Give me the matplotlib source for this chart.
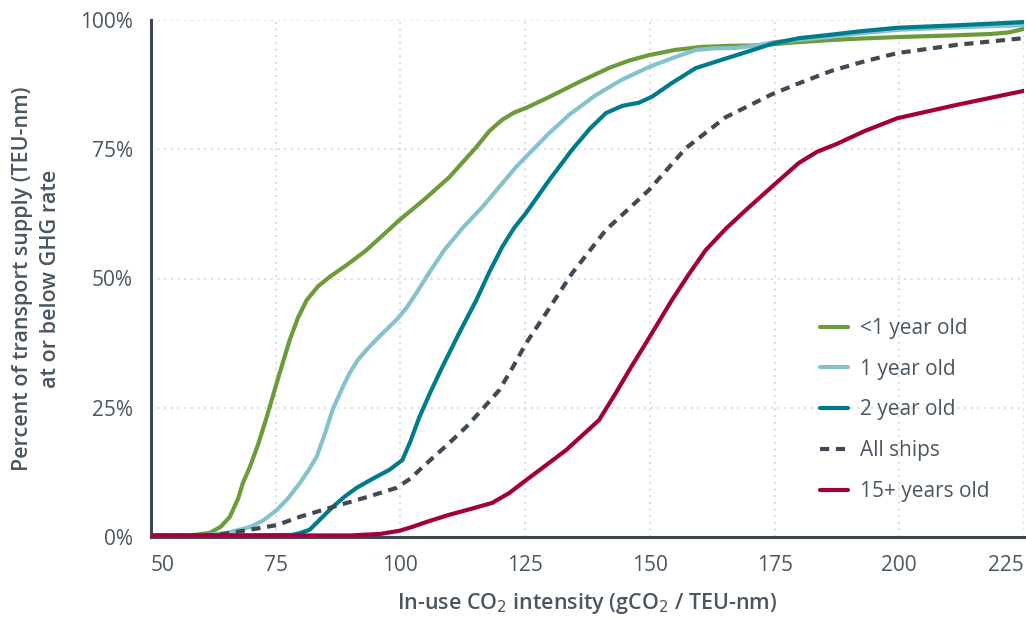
import matplotlib
matplotlib.use('Agg')
import matplotlib.pyplot as plt

# CO2 intensity (gCO2 / TEU-nm) vs cumulative share of transport supply (%)
x_lt1 = [48, 58, 61.8, 64, 65.8, 67.5, 68.4, 69.8, 71.5, 73.2, 75.2, 77.8, 79.5,
         81.2, 83.5, 85.8, 89.5, 93.2, 99.8, 104.8, 109.8, 112.5, 115.2, 117.8,
         120.4, 122.8, 125.2, 129.8, 135.8, 142, 146, 149.8, 155, 160.4,
         166, 172.4, 178, 185.8, 192, 199.6, 210, 218.4, 222, 225, 232]
y_lt1 = [0.3, 0.3, 0.8, 2.0, 3.9, 7.5, 10.4, 13.5, 18.0, 23.2, 29.8, 38.1, 42.5,
         45.8, 48.5, 50.3, 52.8, 55.5, 61.3, 65.3, 69.6, 72.5, 75.4, 78.5,
         80.7, 82.1, 83.0, 85.1, 88.0, 90.8, 92.2, 93.2, 94.2, 94.8,
         95.0, 95.1, 95.6, 96.1, 96.4, 96.7, 97.0, 97.3, 97.6, 98.3, 99.0]

x_1yr = [48, 60, 65.2, 69.8, 72.5, 75.2, 77.5, 79.8, 81.5, 83.2, 84.8, 86.4, 88.2,
         89.8, 91.5, 93.2, 96, 99.2, 101.2, 103.2, 106, 108.8, 112.5,
         116.4, 123.2, 129.8, 134, 139.2, 144.5, 149.8, 155, 159.2, 163, 167.2,
         171, 174.8, 180, 185.8, 192, 199.6, 212, 225, 232]
y_1yr = [0.3, 0.3, 0.8, 1.9, 3.2, 5.2, 7.5, 10.4, 12.8, 15.5, 19.8, 24.6, 28.5,
         31.7, 34.3, 36.2, 39.0, 42.0, 44.3, 47.2, 51.5, 55.5, 59.8,
         63.8, 71.6, 78.1, 81.8, 85.5, 88.5, 90.9, 92.8, 94.2, 94.5, 94.6,
         95.0, 95.7, 96.2, 96.7, 97.4, 98.1, 98.6, 99.0, 99.3]

x_2yr = [48, 70, 78.4, 80, 81.8, 84, 86.4, 88.8, 91.2, 94.5, 97.8, 100.4, 102,
         103.8, 106, 108.4, 111.8, 115.2, 117.8, 120.4, 122.8,
         125.2, 129.8, 134.4, 138, 141.2, 144.5, 147.8, 150.5, 154.4, 159.2, 164.4,
         170, 174.8, 180, 185.8, 192, 199.6, 212, 225, 232]
y_2yr = [0.3, 0.3, 0.4, 0.8, 1.4, 3.5, 5.8, 7.8, 9.5, 11.3, 13.0, 14.9, 18.5,
         23.2, 28.0, 32.9, 39.5, 45.8, 51.2, 56.1, 59.8,
         62.7, 69.0, 74.9, 79.0, 82.0, 83.4, 84.0, 85.2, 87.8, 90.7, 92.3,
         94.0, 95.5, 96.5, 97.1, 97.8, 98.5, 99.0, 99.6, 99.8]

x_all = [48, 58, 63.2, 69.8, 75.2, 79.8, 86.4, 93.2, 99.2, 102, 104.4, 109.8, 113.2,
         116.5, 119.8, 122.5, 125.2, 129.2, 134.4, 141.2, 149.8, 157.2, 165.2, 174.6,
         180, 186.5, 193, 199.6, 211.6, 225, 232]
y_all = [0.3, 0.3, 0.4, 1.4, 2.3, 3.9, 5.8, 7.7, 9.5, 11.3, 13.5, 18.2, 21.3,
         24.8, 28.4, 32.8, 37.5, 43.3, 51.0, 59.4, 67.1, 75.2, 81.2, 85.7,
         87.8, 90.2, 92.0, 93.6, 95.2, 96.5, 97.0]

x_15p = [48, 90, 96, 99.8, 102.5, 105.2, 109.8, 114, 118.4, 121.8, 125.2, 133.2,
         139.8, 143.2, 146.2, 149.2, 154.4, 157.8, 161.2, 165.2, 169.2, 174.4,
         179.8, 183.5, 187.4, 193, 199.6, 211.6, 225, 232]
y_15p = [0.3, 0.3, 0.6, 1.2, 2.0, 2.9, 4.3, 5.4, 6.6, 8.5, 11.0, 16.8,
         22.6, 27.9, 32.8, 37.5, 45.8, 50.8, 55.5, 59.6, 63.2, 67.7,
         72.3, 74.5, 76.0, 78.5, 81.0, 83.6, 86.3, 87.6]

labels = ['<1 year old', '1 year old', '2 year old', 'All ships', '15+ years old']
colors = ['#6c9b3b', '#86c2cd', '#007b8b', '#3f4a55', '#a3003b']

x_ticks = [50, 75, 100, 125, 150, 175, 200, 225]
y_ticks = [0, 25, 50, 75, 100]

text_c = '#4a5661'
plt.rcParams['font.family'] = ['Open Sans', 'DejaVu Sans']

fig = plt.figure(figsize=(10.26, 6.2), dpi=100)
ax = fig.add_axes([151 / 1026, 83 / 620, 873 / 1026, 517 / 620])

series = [(x_lt1, y_lt1), (x_1yr, y_1yr), (x_2yr, y_2yr), (x_all, y_all), (x_15p, y_15p)]
for i, (xs, ys) in enumerate(series):
    ls = (0, (2.2, 1.6)) if i == 3 else '-'
    ax.plot(xs, ys, color=colors[i], lw=3, ls=ls, label=labels[i],
            solid_capstyle='round', solid_joinstyle='round', dash_capstyle='butt',
            zorder=3 + (1 if i == 4 else 0))

ax.set_xlim(50, 225)
ax.set_ylim(0, 100)
ax.set_xticks(x_ticks)
ax.set_yticks(y_ticks)
ax.set_xticklabels([str(t) for t in x_ticks])
ax.set_yticklabels([f'{t}%' for t in y_ticks])
xt = ax.get_xticklabels()
xt[0].set_ha('left')
xt[-1].set_ha('right')
ax.tick_params(axis='both', length=0, labelsize=15, labelcolor=text_c)
ax.tick_params(axis='x', pad=13)
ax.tick_params(axis='y', pad=13)

ax.grid(True, color='#cfcfcf', lw=1.2, ls=(0, (1, 3)), zorder=0)
for s in ['top', 'right']:
    ax.spines[s].set_visible(False)
for s in ['left', 'bottom']:
    ax.spines[s].set_color('#3d4852')
    ax.spines[s].set_linewidth(2.2)
ax.set_axisbelow(True)

ax.set_xlabel('In-use CO$_2$ intensity (gCO$_2$ / TEU-nm)', fontsize=15.5,
              fontweight='semibold', color=text_c, labelpad=11)
ax.set_ylabel('Percent of transport supply (TEU-nm)\nat or below GHG rate',
              fontsize=15.5, fontweight='semibold', color=text_c, labelpad=14,
              linespacing=1.4)

leg = ax.legend(loc='upper left', bbox_to_anchor=(0.757, 0.44), frameon=False,
                fontsize=15, handlelength=1.35, handletextpad=0.55,
                labelspacing=0.95, borderaxespad=0)
for t in leg.get_texts():
    t.set_color(text_c)

fig.savefig('out.png', dpi=100)
